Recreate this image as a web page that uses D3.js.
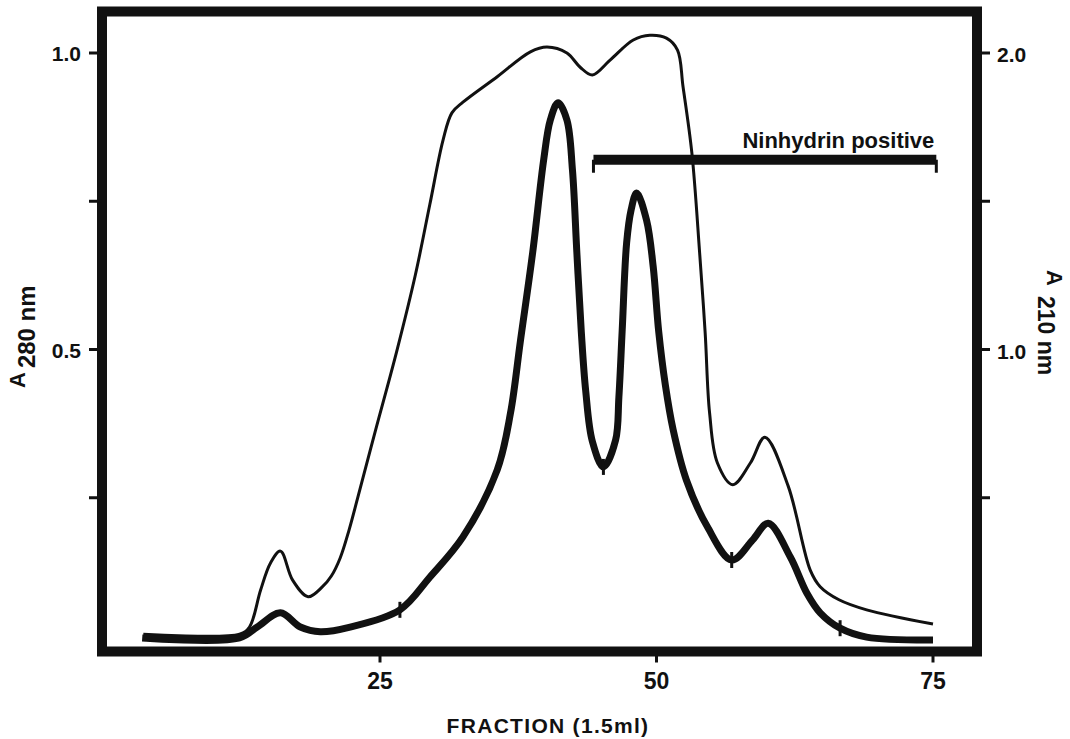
<!DOCTYPE html>
<html>
<head>
<meta charset="utf-8">
<script src="https://cdn.jsdelivr.net/npm/d3@7"></script>
<style>
  body { margin: 0; background: #fff; }
  text { font-family: "Liberation Sans", Arial, Helvetica, sans-serif; font-weight: bold; fill: #111; }
</style>
</head>
<body>
<div id="chart"></div>
<script>
// thin line: A 210 nm (right axis)
const fractionA210 = [3.6, 12.3, 13.2, 14.2, 15.1, 16.0, 17.1, 18.5, 19.8, 20.6, 21.4, 22.2, 23.0, 24.6, 26.5, 28.2,
  29.5, 30.7, 31.5, 32.5, 35.6, 38.6, 40.1, 41.9, 43.1, 44.2, 45.8, 47.9, 49.4, 50.9, 51.9, 52.4,
  53.2, 53.9, 54.4, 54.8, 55.5, 56.9, 58.5, 59.8, 61.9, 63.9, 64.8, 66.5, 69.0, 75.0];
const valuesA210 = [0.040, 0.040, 0.064, 0.188, 0.280, 0.320, 0.222, 0.166, 0.200, 0.236, 0.297, 0.391, 0.502, 0.728, 0.992, 1.252,
  1.488, 1.706, 1.798, 1.834, 1.920, 2.004, 2.020, 2.000, 1.952, 1.926, 1.976, 2.044, 2.060, 2.050, 2.010, 1.886,
  1.662, 1.326, 1.056, 0.786, 0.618, 0.544, 0.618, 0.704, 0.540, 0.256, 0.200, 0.156, 0.122, 0.074];

// thick line: A 280 nm (left axis)
const fractionA280 = [3.5, 12.3, 13.9, 16.0, 17.8, 19.6, 22.3, 26.8, 29.5, 32.5, 35.6, 36.8, 37.7, 38.8,
  39.8, 40.4, 41.1, 41.9, 42.4, 42.8, 43.2, 43.6, 44.2, 45.2, 46.3, 46.6, 46.9, 47.3, 47.7, 48.2,
  49.1, 49.7, 50.2, 50.8, 51.5, 52.7, 54.6, 56.8, 58.7, 60.1, 62.1, 63.6, 64.8, 66.6, 69.0, 75.0];
const valuesA280 = [0.0135, 0.0135, 0.032, 0.056, 0.032, 0.024, 0.032, 0.061, 0.116, 0.184, 0.297, 0.393, 0.515, 0.663,
  0.820, 0.887, 0.916, 0.887, 0.803, 0.663, 0.530, 0.430, 0.345, 0.302, 0.347, 0.420, 0.533, 0.680, 0.735, 0.764,
  0.718, 0.640, 0.530, 0.440, 0.365, 0.280, 0.201, 0.145, 0.179, 0.207, 0.150, 0.089, 0.056, 0.030, 0.015, 0.010];

// small fraction marks on the thick trace
const markFractions = [26.8, 45.2, 56.8, 66.6];

// ninhydrin positive bar
const ninhydrinRange = [44.3, 75.3];
const ninhydrinLevel = 0.82;

const xTicks = [25, 50, 75];
const leftTicks = [0.25, 0.5, 0.75, 1.0];
const leftTickLabels = { 0.5: "0.5", 1.0: "1.0" };
const rightTicks = [0.5, 1.0, 1.5, 2.0];
const rightTickLabels = { 1.0: "1.0", 2.0: "2.0" };

document.addEventListener("DOMContentLoaded", function () {
  const width = 1070;
  const height = 739;

  const x = d3.scaleLinear().domain([25, 75]).range([380, 933]);
  const yLeft = d3.scaleLinear().domain([0, 1]).range([646, 53]);
  const yRight = d3.scaleLinear().domain([0, 2]).range([646, 53]);

  // frame edges
  const frameLeft = 102, frameRight = 977, frameTop = 11.5, frameBottom = 651.5;

  const svg = d3.select("#chart").append("svg")
    .attr("width", width)
    .attr("height", height);

  // Frame
  svg.append("rect")
    .attr("x", frameLeft)
    .attr("y", frameTop)
    .attr("width", frameRight - frameLeft)
    .attr("height", frameBottom - frameTop)
    .attr("fill", "none")
    .attr("stroke", "#111")
    .attr("stroke-width", 10);

  // Left ticks + labels
  const lt = svg.append("g");
  lt.selectAll("line").data(leftTicks).enter().append("line")
    .attr("x1", frameLeft - 13).attr("x2", frameLeft)
    .attr("y1", d => yLeft(d)).attr("y2", d => yLeft(d))
    .attr("stroke", "#111").attr("stroke-width", 3);
  lt.selectAll("text").data(leftTicks.filter(d => leftTickLabels[d])).enter().append("text")
    .attr("x", 81).attr("y", d => yLeft(d) + 8)
    .attr("text-anchor", "end")
    .style("font-size", "21px")
    .text(d => leftTickLabels[d]);

  // Right ticks + labels
  const rt = svg.append("g");
  rt.selectAll("line").data(rightTicks).enter().append("line")
    .attr("x1", frameRight).attr("x2", frameRight + 13)
    .attr("y1", d => yRight(d)).attr("y2", d => yRight(d))
    .attr("stroke", "#111").attr("stroke-width", 3);
  rt.selectAll("text").data(rightTicks.filter(d => rightTickLabels[d])).enter().append("text")
    .attr("x", 997).attr("y", d => yRight(d) + 9)
    .attr("text-anchor", "start")
    .style("font-size", "21px")
    .text(d => rightTickLabels[d]);

  // Bottom ticks + labels
  const bt = svg.append("g");
  bt.selectAll("line").data(xTicks).enter().append("line")
    .attr("x1", d => x(d)).attr("x2", d => x(d))
    .attr("y1", frameBottom).attr("y2", frameBottom + 11)
    .attr("stroke", "#111").attr("stroke-width", 3);
  bt.selectAll("text").data(xTicks).enter().append("text")
    .attr("x", d => x(d)).attr("y", 689)
    .attr("text-anchor", "middle")
    .style("font-size", "23px")
    .text(d => d);

  // Axis titles
  svg.append("text")
    .attr("x", 548).attr("y", 733)
    .attr("text-anchor", "middle")
    .style("font-size", "21px")
    .style("letter-spacing", "1.3px")
    .text("FRACTION (1.5ml)");

  const leftTitle = svg.append("text")
    .attr("transform", "translate(25,388) rotate(-90)")
    .style("font-size", "22px");
  leftTitle.append("tspan").text("A");
  leftTitle.append("tspan").attr("dx", 4).attr("dy", 10).style("font-size", "24px").text("280 nm");

  const rightTitle = svg.append("text")
    .attr("transform", "translate(1047,270) rotate(90)")
    .style("font-size", "22px");
  rightTitle.append("tspan").text("A");
  rightTitle.append("tspan").attr("dx", 10).attr("dy", 9).style("font-size", "23px").text("210 nm");

  // Lines
  const lineLeft = d3.line()
    .x(d => x(d[0]))
    .y(d => yLeft(d[1]))
    .curve(d3.curveCatmullRom.alpha(0.5));
  const lineRight = d3.line()
    .x(d => x(d[0]))
    .y(d => yRight(d[1]))
    .curve(d3.curveCatmullRom.alpha(0.5));

  const a210 = fractionA210.map((f, i) => [f, valuesA210[i]]);
  const a280 = fractionA280.map((f, i) => [f, valuesA280[i]]);

  svg.append("path")
    .attr("d", lineRight(a210))
    .attr("fill", "none")
    .attr("stroke", "#111")
    .attr("stroke-width", 3);

  svg.append("path")
    .attr("d", lineLeft(a280))
    .attr("fill", "none")
    .attr("stroke", "#111")
    .attr("stroke-width", 7);

  // marks on the thick trace
  const bis = d3.bisector(d => d[0]).left;
  function a280At(f) {
    const i = Math.max(1, Math.min(a280.length - 1, bis(a280, f)));
    const a = a280[i - 1], b = a280[i];
    return a[1] + (b[1] - a[1]) * (f - a[0]) / (b[0] - a[0]);
  }
  svg.selectAll(".mark").data(markFractions).enter().append("line")
    .attr("class", "mark")
    .attr("x1", d => x(d)).attr("x2", d => x(d))
    .attr("y1", d => yLeft(a280At(d)) - 8)
    .attr("y2", d => yLeft(a280At(d)) + 8)
    .attr("stroke", "#111").attr("stroke-width", 3);

  // Ninhydrin positive bar
  const nb = svg.append("g");
  nb.append("line")
    .attr("x1", x(ninhydrinRange[0])).attr("x2", x(ninhydrinRange[1]))
    .attr("y1", yLeft(ninhydrinLevel)).attr("y2", yLeft(ninhydrinLevel))
    .attr("stroke", "#111").attr("stroke-width", 10);
  nb.selectAll(".end").data(ninhydrinRange).enter().append("line")
    .attr("class", "end")
    .attr("x1", d => x(d)).attr("x2", d => x(d))
    .attr("y1", yLeft(ninhydrinLevel)).attr("y2", yLeft(ninhydrinLevel) + 13)
    .attr("stroke", "#111").attr("stroke-width", 3);
  nb.append("text")
    .attr("x", x(ninhydrinRange[1]) - 2)
    .attr("y", yLeft(ninhydrinLevel) - 12)
    .attr("text-anchor", "end")
    .style("font-size", "22px")
    .text("Ninhydrin positive");
});
</script>
</body>
</html>
